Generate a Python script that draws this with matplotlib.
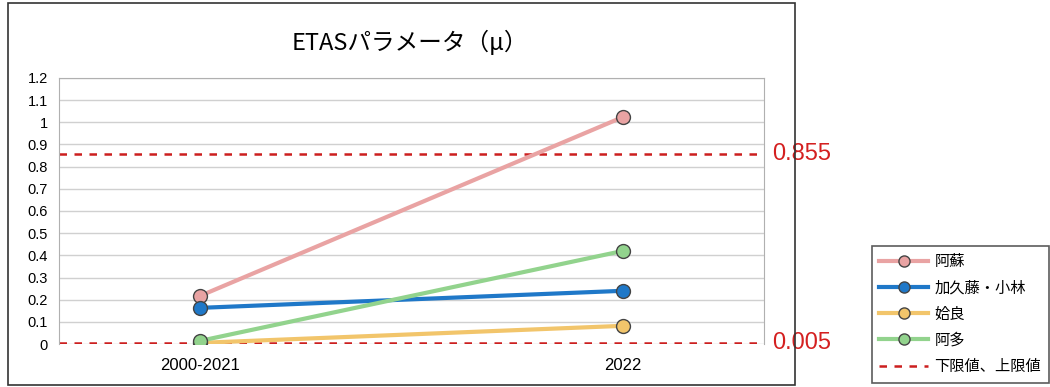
import matplotlib
matplotlib.use('Agg')
from matplotlib import pyplot as plt
from matplotlib.patches import Rectangle

plt.rcParams['font.family'] = ['Liberation Sans', 'Noto Sans CJK JP', 'DejaVu Sans']

periods = ['2000-2021', '2022']
names = ['阿蘇', '加久藤・小林', '姶良', '阿多']
aso = [0.217, 1.024]
kakuto = [0.163, 0.24]
aira = [0.005, 0.082]
ata = [0.014, 0.42]
colors = ['#e9a3a3', '#1f78c8', '#f2c56b', '#92d38d']
limits = [0.005, 0.855]
limit_labels = ['0.005', '0.855']
limit_name = '下限値、上限値'

fig = plt.figure(figsize=(10.5, 3.87), dpi=100)
fig.patches.append(Rectangle((8 / 1050, 2 / 387), 787 / 1050, 382 / 387, transform=fig.transFigure,
                             fill=False, edgecolor='#333333', linewidth=1.2))
ax = fig.add_axes([59 / 1050, 43 / 387, 705 / 1050, 266 / 387])

x = range(len(periods))
for name, vals, c in zip(names, [aso, kakuto, aira, ata], colors):
    ax.plot(x, vals, color=c, linewidth=3, marker='o', markersize=10,
            markerfacecolor=c, markeredgecolor='#444444', markeredgewidth=1, label=name, zorder=3)

for i, (v, lab) in enumerate(zip(limits, limit_labels)):
    ax.axhline(v, color='#cc1f1f', linestyle=(0, (3, 3)), linewidth=1.8,
               label=limit_name if i == 0 else None, zorder=2)
    ax.text(1.012, v, lab, transform=ax.get_yaxis_transform(), color='#d42020',
            fontsize=17, va='center', ha='left')

ax.set_xlim(-1 / 3, 4 / 3)
ax.set_ylim(0, 1.2)
ax.set_yticks([i / 10 for i in range(13)])
ax.set_yticklabels(['0', '0.1', '0.2', '0.3', '0.4', '0.5', '0.6', '0.7', '0.8', '0.9', '1', '1.1', '1.2'],
                   fontsize=10.5)
ax.set_xticks(list(x))
ax.set_xticklabels(periods, fontsize=12)
ax.tick_params(length=0, pad=8)
ax.tick_params(axis='x', pad=10)
ax.grid(axis='y', color='#d0d0d0', linewidth=1)
ax.set_axisbelow(True)
for s in ['left', 'right', 'top']:
    ax.spines[s].set_color('#b0b0b0')
ax.spines['bottom'].set_visible(False)

fig.text(410 / 1050, 1 - 42 / 387, 'ETASパラメータ（μ）', fontsize=17, ha='center', va='center',
         family=['Noto Sans CJK JP', 'DejaVu Sans'])

handles, labels = ax.get_legend_handles_labels()
leg = fig.legend(handles, labels, loc='upper left', bbox_to_anchor=(864 / 1050, 1 - 238 / 387),
                 frameon=True, fancybox=False, edgecolor='#333333',
                 handlelength=3.2, handletextpad=0.4, labelspacing=0.6, borderpad=0.5,
                 prop={'family': ['Noto Sans CJK JP', 'DejaVu Sans'], 'size': 11})
leg.get_frame().set_linewidth(1.2)
for h in leg.legend_handles:
    if hasattr(h, 'set_markersize'):
        h.set_markersize(8)

fig.savefig('out.png', dpi=100)
